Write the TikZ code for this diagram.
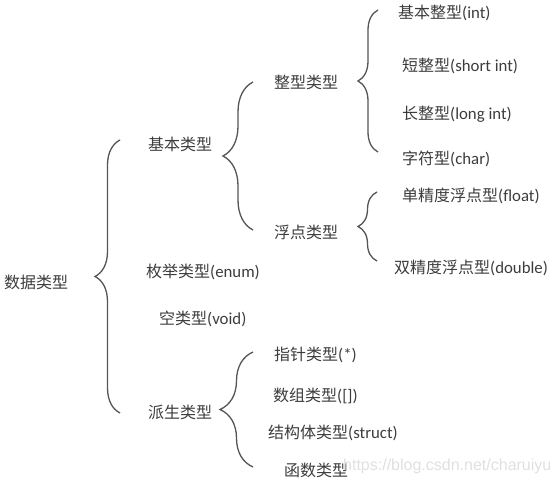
\documentclass[tikz,border=0pt]{standalone}
\usepackage{fontspec}
\setmainfont{Carlito}[Scale=1.05]
\newfontfamily\cjk{Noto Sans CJK SC}
\newcommand\zh[1]{{\cjk #1}}
\usetikzlibrary{decorations.pathreplacing,positioning}
\definecolor{ink}{RGB}{60,60,60}
\definecolor{brc}{RGB}{85,85,85}

\begin{document}
\begin{tikzpicture}[x=1pt,y=-1pt,
  txt/.style={anchor=west,inner sep=0pt,text=ink,font=\fontsize{16}{19}\selectfont},
  brc/.style={decorate,decoration={brace,amplitude=#1},draw=brc,line width=1.3pt},
  wm/.style={anchor=west,inner sep=0pt,text=black!12,font=\fontsize{16}{19}\selectfont}
]
\useasboundingbox (0,0) rectangle (556,482);
% root
\node[txt] (data)    at (4,282)   {\zh{数据类型}};
% level 1
\node[txt] (basic)   at (148,144) {\zh{基本类型}};
\node[txt] (enum)    at (146,272) {\zh{枚举类型}(enum)};
\node[txt] (void)    at (159,319) {\zh{空类型}(void)};
\node[txt] (derived) at (148,412) {\zh{派生类型}};
% level 2: basic types
\node[txt] (intg)    at (274,82)  {\zh{整型类型}};
\node[txt] (flt)     at (274,232) {\zh{浮点类型}};
% level 2: derived types
\node[txt] (ptr)     at (274,355) {\zh{指针类型}(*)};
\node[txt] (arr)     at (273,396) {\zh{数组类型}([])};
\node[txt] (struct)  at (268,433) {\zh{结构体类型}(struct)};
\node[txt] (func)    at (284,470) {\zh{函数类型}};
% level 3: integer and float types
\node[txt] (int)     at (398,13)  {\zh{基本整型}(int)};
\node[txt] (short)   at (402,66)  {\zh{短整型}(short int)};
\node[txt] (long)    at (402,114) {\zh{长整型}(long int)};
\node[txt] (char)    at (402,159) {\zh{字符型}(char)};
\node[txt] (float)   at (402,196) {\zh{单精度浮点型}(float)};
\node[txt] (double)  at (394,268) {\zh{双精度浮点型}(double)};
% watermark
\node[wm] (mark) at (343,466) {\fontspec{Liberation Sans}https://blog.csdn.net/charuiyu};

% brace ends
\coordinate (dtop) at (120,140);  \coordinate (dbot) at (120,413);
\coordinate (btop) at (253,82);   \coordinate (bbot) at (253,230);
\coordinate (itop) at (378,10);   \coordinate (ibot) at (378,152);
\coordinate (ftop) at (377,192);  \coordinate (fbot) at (377,261);
\coordinate (vtop) at (253,352);  \coordinate (vbot) at (253,467);

% braces (drawn bottom to top, tip points left)
\draw[brc=25] (dbot) -- (dtop);
\draw[brc=30] (bbot) -- (btop);
\draw[brc=20] (ibot) -- (itop);
\draw[brc=19] (fbot) -- (ftop);
\draw[brc=33] (vbot) -- (vtop);
\end{tikzpicture}
\end{document}
